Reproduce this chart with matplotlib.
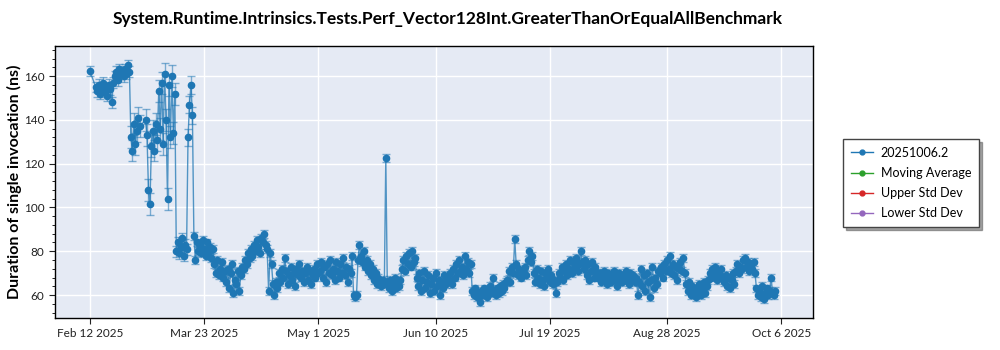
import numpy as np
import pandas as pd
import matplotlib
matplotlib.use("Agg")
import matplotlib.pyplot as plt
import matplotlib.dates as mdates
from matplotlib.lines import Line2D
from matplotlib.ticker import AutoMinorLocator, FixedLocator

plt.rcParams["font.family"] = ["Lato", "DejaVu Sans"]

TITLE = "System.Runtime.Intrinsics.Tests.Perf_Vector128Int.GreaterThanOrEqualAllBenchmark"
SERIES_NAME = "20251006.2"
Y_LABEL = "Duration of single invocation (ns)"
TICK_DATES = ["2025-02-12", "2025-03-23", "2025-05-01", "2025-06-10",
              "2025-07-19", "2025-08-28", "2025-10-06"]

# Benchmark runs, sampled every 12 hours within each block (ns)
feb_start = [162.3]
feb_high = [155, 153, 156, 152, 154, 157, 153, 155, 151, 156, 154, 148,
            157, 160, 162, 158, 163, 161, 162, 160, 163, 161, 165, 162]
feb_drop = [132, 126, 138, 129, 135, 141, 137]
mar_volatile = [140, 133, 108, 101.5, 128, 135, 126, 138, 131, 153, 136,
                157, 129, 161, 140, 104, 156, 132, 160, 134, 152]
mar_low = [80, 84, 79, 82, 86, 78, 83, 81]
mar_spike = [132, 147, 156, 142]
mar_apr = [87, 76, 84, 80, 83, 79, 85, 81, 78, 84, 80, 82, 77, 81,
           74, 70, 76, 69, 72, 75, 68, 71,
           66, 72, 63, 70, 74, 61, 67, 65, 71, 62, 69, 73,
           72, 76, 74, 79, 77, 81, 78, 83, 80, 85, 82, 79, 86, 84, 88, 83,
           81, 62, 79, 74, 65, 60, 66, 63,
           70, 66, 72, 68, 77, 71, 65, 69, 73, 67, 70, 64, 72, 69,
           74, 68, 71, 66, 70, 73, 67, 71, 65, 69, 72, 68, 74, 70,
           71, 75, 68, 73, 66, 74, 70, 76, 69, 72, 67, 75, 71, 68,
           74, 70, 77, 69, 73, 66, 72, 70,
           78, 60, 59, 60, 76, 83,
           78, 75, 80, 73, 76, 71, 74, 69, 72, 67, 70, 65, 68, 66, 64, 67, 65,
           122.5]
may_sep = [66, 63, 67, 62, 65, 68, 63, 66, 64, 67,
           72, 76, 71, 78, 74, 79, 73, 80, 75, 77,
           68, 64, 70, 62, 67, 71, 63, 66, 69, 61, 65, 68, 62, 70, 64, 67,
           60, 66, 63, 69, 65, 68,
           67, 70, 65, 72, 68, 74, 70, 76, 71, 73, 69, 78, 72, 75, 70, 74,
           62, 60, 63, 59, 61, 57, 62, 60, 63, 61, 59, 62, 64, 61, 68, 62,
           60, 63, 61, 64, 62, 65, 63, 66,
           67, 71, 66, 73, 70, 85.6,
           74, 69, 72, 68, 71, 70, 73, 69,
           76, 80, 75, 78,
           70, 66, 72, 68, 65, 71, 67, 64, 70, 68, 72, 66, 69, 65, 67, 61,
           66, 70, 68, 73, 67, 71, 74, 69, 72, 76, 70, 75, 73, 77, 71, 74, 80, 75,
           72, 76, 69, 74, 67, 71, 75, 68, 73, 70,
           68, 70, 66, 69, 71, 67, 65, 70, 68, 66, 69, 71, 67, 64, 70, 68,
           66, 69, 67, 71, 68, 65, 70, 67, 69, 66,
           68, 60, 66, 72, 64, 69, 62, 70, 66, 59, 67, 73, 63, 68, 65, 71,
           70, 73, 68, 74, 71, 76, 72, 78, 70, 74, 69, 73, 67, 72, 75, 71, 77, 70,
           65, 62, 66, 60, 64, 61, 63, 59, 62, 65, 60, 63, 66, 61, 64, 67,
           70, 68, 72, 69, 73, 67, 71, 69, 72, 68,
           66, 69, 64, 68, 63, 67, 70, 65,
           71, 74, 70, 73, 72, 76, 77, 73, 75, 71, 74, 72, 75, 70,
           63, 60, 62, 59, 64, 58, 61, 63, 60, 62, 68, 61, 60, 62]

# (first run time, values, typical std dev of the runs)
blocks = [
    ("2025-02-12 00:00", feb_start, 2.5),
    ("2025-02-14 00:00", feb_high, 2.5),
    ("2025-02-26 00:00", feb_drop, 5.0),
    ("2025-03-03 00:00", mar_volatile, 5.0),
    ("2025-03-13 12:00", mar_low, 2.5),
    ("2025-03-17 12:00", mar_spike, 4.0),
    ("2025-03-19 12:00", mar_apr, 1.8),
    ("2025-05-24 12:00", may_sep, 1.8),
]

times, values, errors = [], [], []
for first, vals, spread in blocks:
    t = pd.date_range(first, periods=len(vals), freq="12h")
    times.extend(t)
    values.extend(vals)
    errors.extend([spread] * len(vals))
times = pd.DatetimeIndex(times)
values = np.array(values, dtype=float)
errors = np.array(errors, dtype=float)

fig = plt.figure(figsize=(10, 3.5), dpi=100)
ax = fig.add_axes([0.055, 0.0914, 0.758, 0.777])
ax.set_facecolor("#E5EAF4")

blue = "#1f77b4"
ax.errorbar(times, values, yerr=errors, fmt="none", ecolor=blue,
            elinewidth=1.0, capsize=3, capthick=1.0, alpha=0.55, zorder=2)
ax.plot(times, values, color=blue, lw=1.0, alpha=0.75, zorder=3)
ax.plot(times, values, "o", color=blue, ms=4.5, zorder=4)

ax.set_ylim(49.5, 173.7)
ax.set_xlim(pd.Timestamp("2025-02-12") - pd.Timedelta(days=11.9),
            pd.Timestamp("2025-10-06") + pd.Timedelta(days=10.8))
ax.set_yticks([60, 80, 100, 120, 140, 160])
ax.yaxis.set_minor_locator(AutoMinorLocator(5))
tick_pos = mdates.date2num(pd.to_datetime(TICK_DATES))
ax.xaxis.set_major_locator(FixedLocator(tick_pos))
ax.xaxis.set_major_formatter(mdates.DateFormatter("%b %-d %Y"))
ax.grid(True, which="major", color="white", lw=1.0)
ax.set_axisbelow(True)
for s in ax.spines.values():
    s.set_color("black")
    s.set_linewidth(1.0)
ax.tick_params(axis="both", which="major", labelsize=8.5, colors="#222222",
               length=4)
ax.tick_params(axis="y", which="minor", length=2)

ax.set_ylabel(Y_LABEL, fontsize=11.5, fontweight="bold")
ax.yaxis.set_label_coords(-0.0435, 0.5)
fig.text(0.448, 0.946, TITLE, ha="center", va="center", fontsize=12.5,
         fontweight="bold")

handles = [Line2D([], [], color=c, marker="o", ms=3.5, lw=1.0)
           for c in [blue, "#2ca02c", "#d62728", "#9467bd"]]
labels = [SERIES_NAME, "Moving Average", "Upper Std Dev", "Lower Std Dev"]
leg = fig.legend(handles, labels, loc="center", bbox_to_anchor=(0.911, 0.477),
                 fontsize=9, frameon=True, fancybox=False, shadow=True,
                 edgecolor="#444444", handlelength=1.8, borderpad=0.6,
                 labelspacing=0.65, handletextpad=0.6)
leg.get_frame().set_linewidth(1.0)

fig.savefig("out.png", dpi=100)
